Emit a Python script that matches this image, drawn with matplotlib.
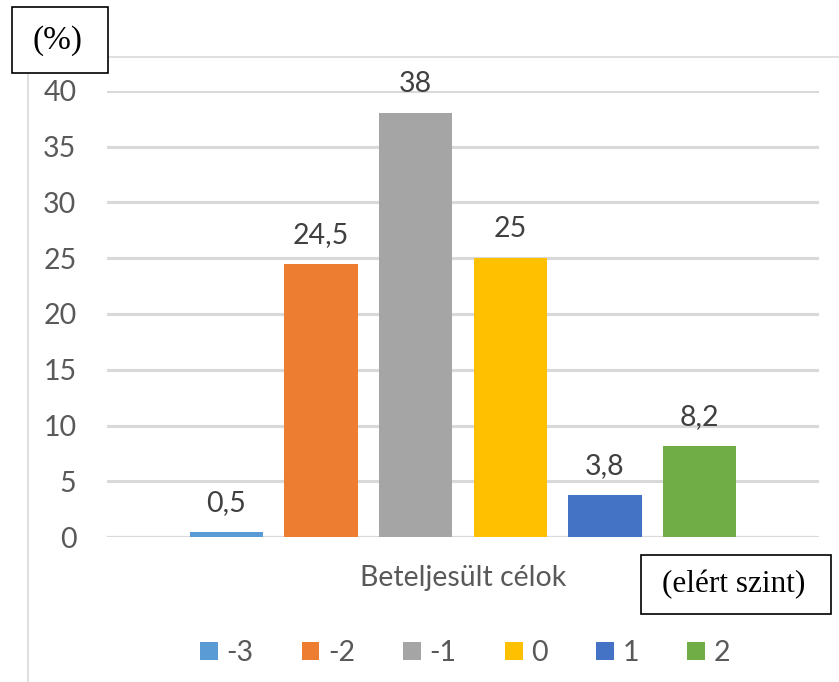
import matplotlib
matplotlib.use("Agg")
import matplotlib.pyplot as plt
from matplotlib.patches import Rectangle, Patch
import numpy as np

# Elért szintek és a hozzájuk tartozó arányok (%)
szintek = ["-3", "-2", "-1", "0", "1", "2"]
ertekek = [0.5, 24.5, 38, 25, 3.8, 8.2]
cimkek = ["0,5", "24,5", "38", "25", "3,8", "8,2"]
kategoria = "Beteljesült célok"
y_ticks = [0, 5, 10, 15, 20, 25, 30, 35, 40]

szinek = ["#5B9BD5", "#ED7D31", "#A5A5A5", "#FFC000", "#4472C4", "#70AD47"]

plt.rcParams["font.family"] = ["Lato", "DejaVu Sans"]
FS = 20.5

W, H = 839, 682
fig = plt.figure(figsize=(W / 100, H / 100), dpi=100)

# diagramterület kerete (halványszürke)
fig.patches.append(Rectangle((28 / W, -0.2), 1, 1.2 - 57 / H, transform=fig.transFigure,
                             fill=False, edgecolor="#D9D9D9", linewidth=1.2, zorder=0))

ax = fig.add_axes([107 / W, 1 - 537.3 / H, 712 / W, 446.6 / H])
ax.set_facecolor("none")

x = np.arange(len(szintek))
bar_width = 0.772
bars = ax.bar(x, ertekek, bar_width, color=szinek, zorder=3)

for bar, cimke in zip(bars, cimkek):
    ax.annotate(cimke, (bar.get_x() + bar.get_width() / 2, bar.get_height()),
                xytext=(0, 15), textcoords="offset points", ha="center", va="baseline",
                fontsize=FS, color="#404040")

ax.set_xlim(-1.26, len(szintek) - 1 + 1.26)
ax.set_ylim(0, 40)
ax.set_yticks(y_ticks)
ax.set_yticklabels([str(t) for t in y_ticks])
ax.tick_params(axis="y", length=0, pad=22, labelsize=FS, labelcolor="#595959")
ax.set_xticks([(len(szintek) - 1) / 2])
ax.set_xticklabels([kategoria])
ax.tick_params(axis="x", length=0, pad=20, labelsize=FS, labelcolor="#595959")

for s in ax.spines.values():
    s.set_visible(False)
for t in y_ticks:
    ax.axhline(t, color="#D9D9D9", linewidth=2.2 if t else 1.6, zorder=1)

# jelmagyarázat
handles = [Patch(facecolor=c, edgecolor="none") for c in szinek]
fig.legend(handles, szintek, loc="center", bbox_to_anchor=(465 / W, 1 - 653 / H),
           ncol=6, frameon=False, fontsize=FS, labelcolor="#595959",
           handlelength=0.62, handleheight=0.62, handletextpad=0.3, columnspacing=1.7)

# szövegdobozok a tengelyfeliratokhoz
fig.patches.append(Rectangle((12 / W, 1 - 73 / H), 96 / W, 66 / H, transform=fig.transFigure,
                             facecolor="white", edgecolor="black", linewidth=1.2, zorder=5))
fig.text(57 / W, 1 - 41 / H, "(%)", family="Liberation Serif", fontsize=24,
         ha="center", va="center", color="black", zorder=6)
fig.patches.append(Rectangle((641 / W, 1 - 614 / H), 190 / W, 59 / H, transform=fig.transFigure,
                             facecolor="white", edgecolor="black", linewidth=1.2, zorder=5))
fig.text(734 / W, 1 - 585 / H, "(elért szint)", family="Liberation Serif", fontsize=22.5,
         ha="center", va="center", color="black", zorder=6)

fig.savefig("out.png", dpi=100, facecolor="white")
